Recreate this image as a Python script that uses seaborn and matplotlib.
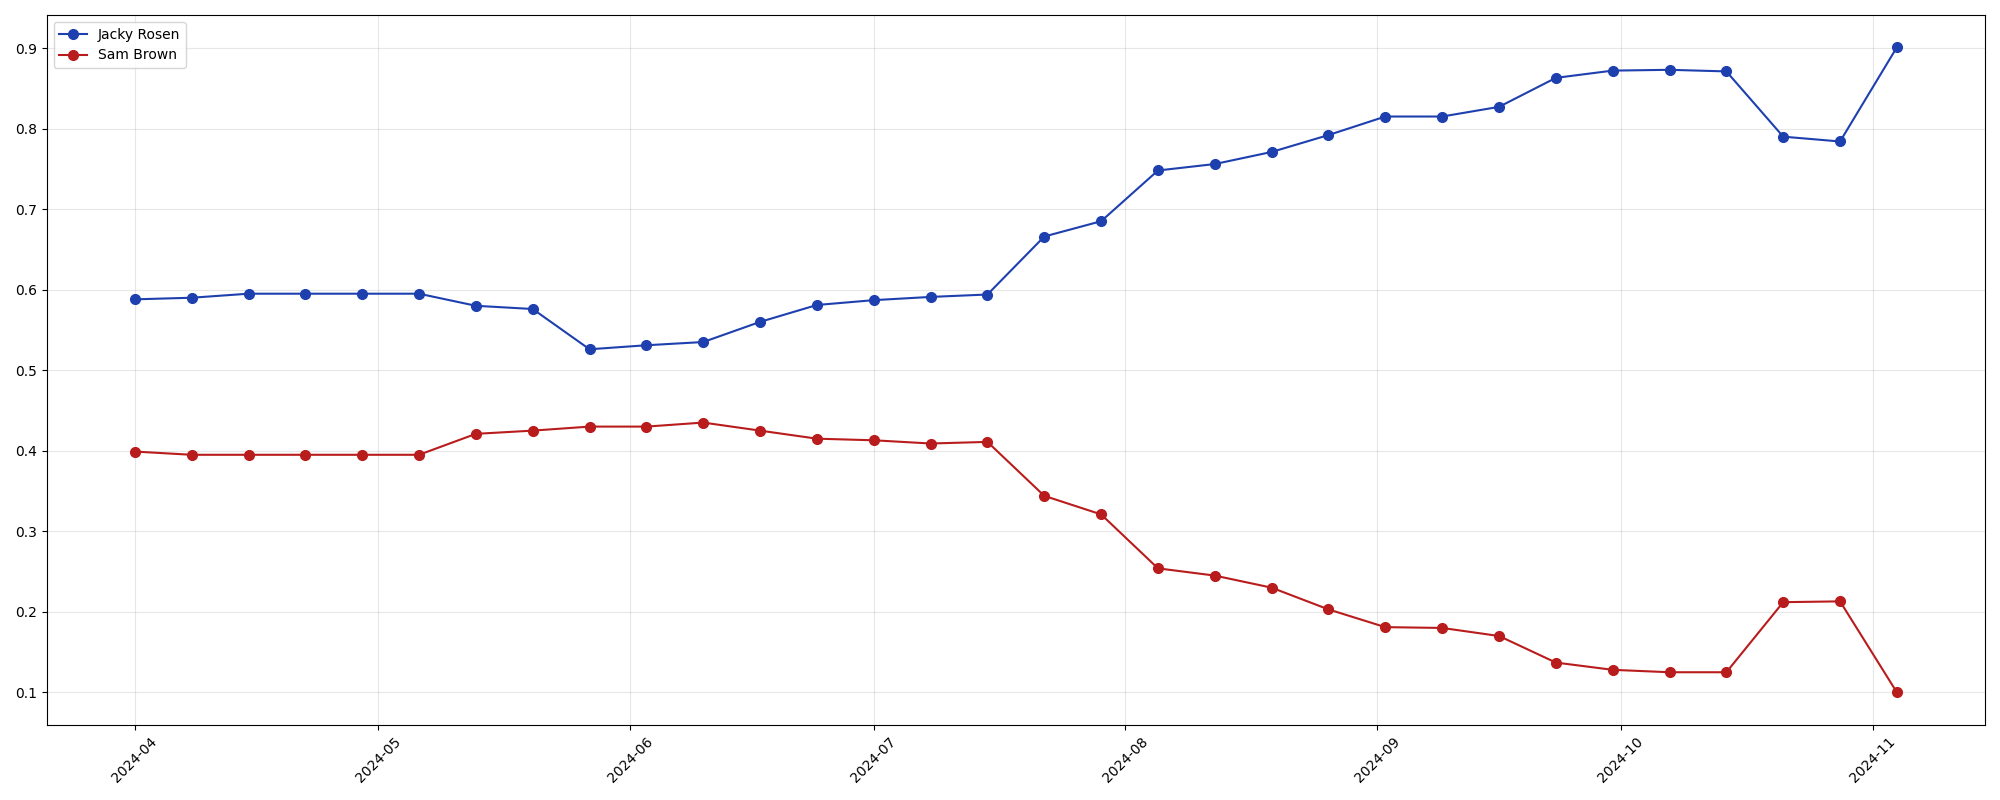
"""
Weekly polling share, Nevada Senate race (Rosen vs Brown).
"""
import matplotlib
matplotlib.use("Agg")
import matplotlib.pyplot as plt
import matplotlib.dates as mdates
import seaborn as sns
import pandas as pd

# Weekly dates, starting 2024-04-01
dates = pd.to_datetime([
    "2024-04-01", "2024-04-08", "2024-04-15", "2024-04-22", "2024-04-29",
    "2024-05-06", "2024-05-13", "2024-05-20", "2024-05-27", "2024-06-03",
    "2024-06-10", "2024-06-17", "2024-06-24", "2024-07-01", "2024-07-08",
    "2024-07-15", "2024-07-22", "2024-07-29", "2024-08-05", "2024-08-12",
    "2024-08-19", "2024-08-26", "2024-09-02", "2024-09-09", "2024-09-16",
    "2024-09-23", "2024-09-30", "2024-10-07", "2024-10-14", "2024-10-21",
    "2024-10-28", "2024-11-04",
])

rosen = [0.588, 0.590, 0.595, 0.595, 0.595, 0.595, 0.580, 0.576, 0.526, 0.531,
         0.535, 0.560, 0.581, 0.587, 0.591, 0.594, 0.666, 0.685, 0.748, 0.756,
         0.771, 0.792, 0.815, 0.815, 0.827, 0.863, 0.872, 0.873, 0.871, 0.790,
         0.784, 0.901]

brown = [0.399, 0.395, 0.395, 0.395, 0.395, 0.395, 0.421, 0.425, 0.430, 0.430,
         0.435, 0.425, 0.415, 0.413, 0.409, 0.411, 0.344, 0.321, 0.254, 0.245,
         0.230, 0.203, 0.181, 0.180, 0.170, 0.137, 0.128, 0.125, 0.125, 0.212,
         0.213, 0.100]

candidates = ["Jacky Rosen", "Sam Brown"]
colors = {"Jacky Rosen": "#1e40af", "Sam Brown": "#b91c1c"}

df = pd.DataFrame({"date": dates, "Jacky Rosen": rosen, "Sam Brown": brown})

fig, ax = plt.subplots(figsize=(20, 8), dpi=100)

for name in candidates:
    sns.lineplot(data=df, x="date", y=name, ax=ax, label=name,
                 color=colors[name], marker="o", markersize=7,
                 markeredgecolor=colors[name], markeredgewidth=1,
                 linewidth=1.5)

ax.xaxis.set_major_locator(mdates.MonthLocator())
ax.xaxis.set_major_formatter(mdates.DateFormatter("%Y-%m"))
plt.setp(ax.get_xticklabels(), rotation=45)
ax.set_xlabel("")
ax.set_ylabel("")
ax.grid(True, alpha=0.3)
ax.legend(loc="upper left")

plt.tight_layout()
plt.savefig("out.png")
